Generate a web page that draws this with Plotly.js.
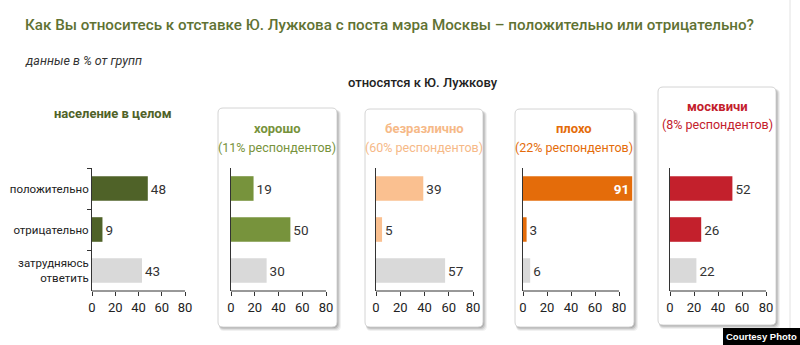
<!DOCTYPE html>
<html>
<head>
<meta charset="utf-8">
<script src="https://cdn.plot.ly/plotly-3.0.1.min.js"></script>
<style>
html,body{margin:0;padding:0;background:#fff;}
#chart{width:800px;height:345px;}
</style>
</head>
<body>
<div id="chart"></div>
<script>
// ---- data ----
const categories = ["положительно", "отрицательно", "затрудняюсь<br>ответить"];
const groups = ["население в целом", "хорошо", "безразлично", "плохо", "москвичи"];
const groupShares = ["", "(11% респондентов)", "(60% респондентов)", "(22% респондентов)", "(8% респондентов)"];
const valuesAll = [48, 9, 43];
const valuesGood = [19, 50, 30];
const valuesIndiff = [39, 5, 57];
const valuesBad = [91, 3, 6];
const valuesMoscow = [52, 26, 22];
const xTicks = [0, 20, 40, 60, 80];

const W = 800, H = 345;
const px = x => x / W;
const py = y => 1 - y / H;

const seriesValues = [valuesAll, valuesGood, valuesIndiff, valuesBad, valuesMoscow];
const mainColors = ["#4f6228", "#77933c", "#fac090", "#e46c0a", "#c3202c"];
const titleColors = ["#4f6228", "#77933c", "#f6b987", "#e46c0a", "#c3202c"];
const grayBar = "#d9d9d9";
// axis pixel positions (x0 -> value 0, x1 -> value 80)
const axPx = [[92, 185], [231, 326], [376, 473], [523, 619], [670, 766]];
const yTop = 168, yBot = 291;
const axisMax = 80;

const fontMain = "Roboto, 'Open Sans', sans-serif";

const data = [];
const layout = {
  width: W, height: H,
  margin: {l: 0, r: 0, t: 0, b: 0},
  paper_bgcolor: "#fff", plot_bgcolor: "rgba(0,0,0,0)",
  showlegend: false,
  shapes: [], annotations: []
};

seriesValues.forEach((vals, i) => {
  const n = i + 1;
  const xa = "x" + (n === 1 ? "" : n), ya = "y" + (n === 1 ? "" : n);
  const colors = [mainColors[i], mainColors[i], grayBar];
  const positions = vals.map(v => v > axisMax ? "inside" : "outside");
  const rMax = Math.max(axisMax, Math.max(...vals) + 1);
  const pxPerUnit = (axPx[i][1] - axPx[i][0]) / axisMax;
  const domEnd = axPx[i][0] + pxPerUnit * rMax;
  data.push({
    type: "bar", orientation: "h",
    x: vals, y: categories,
    xaxis: xa, yaxis: ya,
    marker: {color: colors, line: {width: 0}},
    width: 0.6,
    text: vals.map(String),
    textposition: positions,
    insidetextanchor: "end",
    textangle: 0,
    outsidetextfont: {family: fontMain, size: 13.5, color: "#333"},
    insidetextfont: {family: fontMain, size: 13.5, color: "#fff", weight: "bold"},
    cliponaxis: false,
    hoverinfo: "skip"
  });
  const xk = "xaxis" + (n === 1 ? "" : n), yk = "yaxis" + (n === 1 ? "" : n);
  layout[xk] = {
    domain: [px(axPx[i][0]), px(domEnd)],
    anchor: ya,
    range: [0, rMax],
    tickvals: xTicks, ticktext: xTicks.map(String),
    showline: false,
    ticks: "outside", ticklen: 4, tickcolor: "#333",
    showgrid: false, zeroline: false,
    tickfont: {family: fontMain, size: 13, color: "#222"},
    fixedrange: true
  };
  // x axis line only up to 80
  layout.shapes.push({type: "line", xref: xa, yref: "paper",
    x0: 0, x1: axisMax, y0: py(yBot), y1: py(yBot), line: {color: "#333", width: 1}});
  layout[yk] = {
    domain: [py(yBot), py(yTop)],
    anchor: xa,
    type: "category",
    categoryorder: "array", categoryarray: categories,
    range: [2.5, -0.5],
    showline: true, linecolor: "#333", linewidth: 1,
    ticks: n === 1 ? "outside" : "", ticklen: 4, tickcolor: "#333",
    tickson: "boundaries",
    showticklabels: n === 1,
    showgrid: false, zeroline: false,
    tickfont: {family: fontMain, size: 11.5, color: "#222"},
    fixedrange: true
  };
});

// rounded boxes for groups 2..5
function rrect(x0, y0, x1, y1, r) {
  const X = v => px(v), Y = v => py(v);
  return `M ${X(x0 + r)} ${Y(y0)} L ${X(x1 - r)} ${Y(y0)} Q ${X(x1)} ${Y(y0)} ${X(x1)} ${Y(y0 + r)} ` +
    `L ${X(x1)} ${Y(y1 - r)} Q ${X(x1)} ${Y(y1)} ${X(x1 - r)} ${Y(y1)} L ${X(x0 + r)} ${Y(y1)} ` +
    `Q ${X(x0)} ${Y(y1)} ${X(x0)} ${Y(y1 - r)} L ${X(x0)} ${Y(y0 + r)} Q ${X(x0)} ${Y(y0)} ${X(x0 + r)} ${Y(y0)} Z`;
}
const boxes = [[218, 108, 337, 327], [365, 109, 483, 327], [515, 109, 634, 327], [658, 87, 776, 325]];
boxes.forEach(b => {
  [[4, 0.07], [3, 0.1], [2, 0.14], [1, 0.2]].forEach(([o, a]) => {
    layout.shapes.push({type: "path", xref: "paper", yref: "paper", layer: "below",
      path: rrect(b[0] + 1, b[1] + 2, b[2] + o, b[3] + o, 5),
      fillcolor: `rgba(60,60,60,${a})`, line: {width: 0}});
  });
  layout.shapes.push({type: "path", xref: "paper", yref: "paper", layer: "below",
    path: rrect(b[0], b[1], b[2], b[3], 5),
    fillcolor: "#fff", line: {color: "#d4d4d4", width: 1}});
});

// right border line
layout.shapes.push({type: "line", xref: "paper", yref: "paper", layer: "below",
  x0: px(790), x1: px(790), y0: 0, y1: 1, line: {color: "#e2e2e2", width: 1}});
// courtesy box
layout.shapes.push({type: "rect", xref: "paper", yref: "paper",
  x0: px(723), x1: 1, y0: 0, y1: py(328), fillcolor: "#000", line: {width: 0}});

// texts
const A = (text, x, y, opts) => Object.assign({
  text, xref: "paper", yref: "paper", x: px(x), y: py(y), showarrow: false,
  xanchor: "center", yanchor: "middle"}, opts || {});

layout.annotations.push(A("Как Вы относитесь к отставке Ю. Лужкова с поста мэра Москвы – положительно или отрицательно?",
  23, 25, {xanchor: "left", font: {family: fontMain, size: 15.2, color: "#5f7233", weight: 500}}));
layout.annotations.push(A("<i>данные в % от групп</i>", 23, 60,
  {xanchor: "left", font: {family: fontMain, size: 12.5, color: "#333"}}));
layout.annotations.push(A("относятся к Ю. Лужкову", 423, 82,
  {font: {family: fontMain, size: 13, color: "#222", weight: 500}}));
layout.annotations.push(A("<b>население в целом</b>", 113, 113,
  {font: {family: fontMain, size: 13, color: titleColors[0]}}));

const titleCenters = [[277, 128, 147], [424, 128, 147], [574, 128, 147], [717, 106, 124]];
titleCenters.forEach((t, k) => {
  const i = k + 1;
  layout.annotations.push(A("<b>" + groups[i] + "</b>", t[0], t[1],
    {font: {family: fontMain, size: 13, color: titleColors[i]}}));
  layout.annotations.push(A(groupShares[i], t[0], t[2],
    {font: {family: fontMain, size: 12.5, color: titleColors[i]}}));
});

layout.annotations.push(A("<b>Courtesy Photo</b>", 761.5, 336.5,
  {font: {family: "'Liberation Sans', Arial, sans-serif", size: 9.5, color: "#fff"}}));

Plotly.newPlot("chart", data, layout, {staticPlot: true, displayModeBar: false});
</script>
</body>
</html>
